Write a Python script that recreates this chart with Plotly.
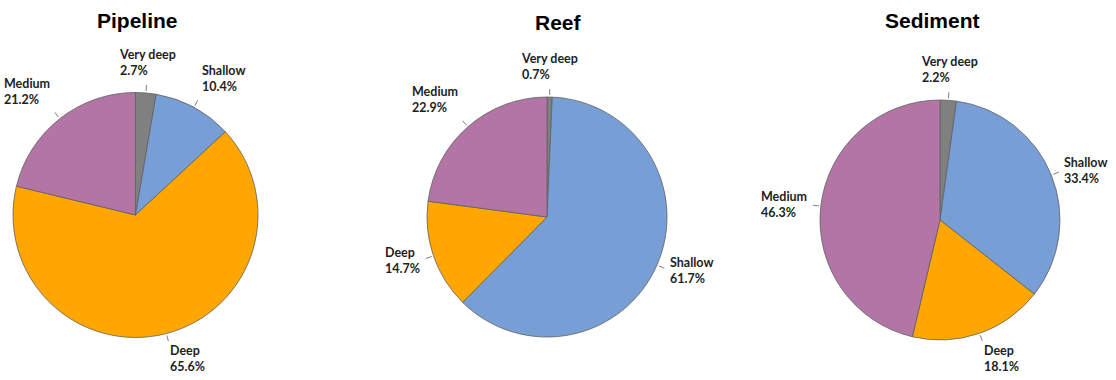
import math
import plotly.graph_objects as go

# Depth classes and their share (%) for each habitat
categories = ["Very deep", "Shallow", "Deep", "Medium"]
pipeline_pct = [2.7, 10.4, 65.6, 21.2]
reef_pct = [0.7, 61.7, 14.7, 22.9]
sediment_pct = [2.2, 33.4, 18.1, 46.3]
panel_titles = ["Pipeline", "Reef", "Sediment"]

colors = ["#808080", "#779fd6", "#ffa600", "#b275a6"]

W, H = 1116, 380
# pixel centre (x, y from top) and radius of each pie
pie_geom = [(135.5, 215, 122.5), (547, 217, 120), (940, 220, 120)]
title_pos = [(137, 21), (558, 23), (932, 21)]
# label gap beyond the rim, by vertical anchor of the label box
label_gap = {"bottom": 14, "middle": 13, "top": 9}

fig = go.Figure()
annotations = []
shapes = []


def px_to_paper(x, y):
    return x / W, 1 - y / H


for values, title, (cx, cy, r), (tx, ty) in zip(
        [pipeline_pct, reef_pct, sediment_pct], panel_titles, pie_geom, title_pos):
    x0, y1 = px_to_paper(cx - r, cy - r)
    x1, y0 = px_to_paper(cx + r, cy + r)
    fig.add_trace(go.Pie(
        labels=categories,
        values=values,
        sort=False,
        direction="clockwise",
        rotation=0,
        textinfo="none",
        hoverinfo="label+percent",
        marker=dict(colors=colors, line=dict(color="#5f5f5f", width=0.8)),
        domain=dict(x=[x0, x1], y=[y0, y1]),
        showlegend=False,
    ))

    # title above each pie
    px, py = px_to_paper(tx, ty)
    annotations.append(dict(
        x=px, y=py, xref="paper", yref="paper", text=title, showarrow=False,
        xanchor="center", yanchor="middle",
        font=dict(family="Liberation Sans", size=21, color="#000000", weight="bold"),
    ))

    # leader ticks and outside labels at each slice's mid angle
    total = sum(values)
    cum = 0.0
    for cat, v in zip(categories, values):
        mid = (cum + v / 2) / total * 2 * math.pi
        cum += v
        s, c = math.sin(mid), math.cos(mid)
        ax0, ay0 = px_to_paper(cx + (r + 2) * s, cy - (r + 2) * c)
        ax1, ay1 = px_to_paper(cx + (r + 8) * s, cy - (r + 8) * c)
        shapes.append(dict(type="line", xref="paper", yref="paper",
                           x0=ax0, y0=ay0, x1=ax1, y1=ay1,
                           line=dict(color="#7f7f7f", width=1)))
        xanchor = "left" if s > 0.2 else ("right" if s < -0.2 else "center")
        yanchor = "bottom" if c > 0.45 else ("top" if c < -0.45 else "middle")
        g = r + label_gap[yanchor]
        lx, ly = px_to_paper(cx + g * s, cy - g * c)
        annotations.append(dict(
            x=lx, y=ly, xref="paper", yref="paper",
            text=f"{cat}<br>{v:.1f}%", showarrow=False, align="left",
            xanchor=xanchor, yanchor=yanchor, borderpad=0,
            font=dict(family="Lato", size=12.5, color="#1e1e1e", weight="bold"),
        ))

fig.update_layout(
    width=W, height=H,
    margin=dict(l=0, r=0, t=0, b=0),
    paper_bgcolor="white",
    plot_bgcolor="white",
    annotations=annotations,
    shapes=shapes,
)

fig.write_html("out.html")
